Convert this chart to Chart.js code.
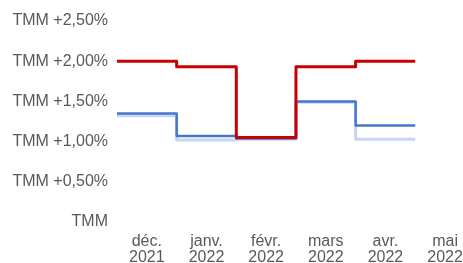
<!DOCTYPE html>
<html>
<head>
<meta charset="utf-8">
<script src="https://cdn.jsdelivr.net/npm/chart.js@4"></script>
<style>
  html, body { margin: 0; padding: 0; background: #fff; overflow: hidden; }
  #wrap { width: 463px; height: 263px; }
</style>
</head>
<body>
<div id="wrap"><canvas id="chart"></canvas></div>
<script>
// months shown on the x axis (two lines each)
const months = [['déc.', '2021'], ['janv.', '2022'], ['févr.', '2022'], ['mars', '2022'], ['avr.', '2022'], ['mai', '2022']];
const yTickLabels = ['TMM', 'TMM +0,50%', 'TMM +1,00%', 'TMM +1,50%', 'TMM +2,00%', 'TMM +2,50%'];

// values in % above TMM, one per month (déc. -> avr.)
const redVals = [2.00, 1.93, 1.05, 1.93, 2.00];
const blueVals = [1.35, 1.07, 1.04, 1.50, 1.20];
const lightVals = [1.32, 1.02, 1.03, 1.49, 1.03];

// each month is a flat step centred on its tick
function steps(vals) {
  const pts = vals.map((v, i) => ({ x: i - 0.5, y: v }));
  pts.push({ x: vals.length - 0.5, y: vals[vals.length - 1] });
  return pts;
}

const grey = '#595959';

new Chart(document.getElementById('chart'), {
  type: 'line',
  data: {
    datasets: [
      { data: steps(redVals), borderColor: '#c80000', borderWidth: 3, stepped: true, pointRadius: 0, borderJoinStyle: 'round', order: 1 },
      { data: steps(blueVals), borderColor: '#4677cc', borderWidth: 2.5, stepped: true, pointRadius: 0, borderJoinStyle: 'round', order: 2 },
      { data: steps(lightVals), borderColor: '#c6d6f2', borderWidth: 3, stepped: true, pointRadius: 0, borderJoinStyle: 'round', order: 3 }
    ]
  },
  options: {
    responsive: true,
    maintainAspectRatio: false,
    animation: false,
    layout: { padding: { top: 21, left: 0, right: 0, bottom: 0 } },
    plugins: { legend: { display: false }, tooltip: { enabled: false } },
    scales: {
      x: {
        type: 'linear',
        min: -0.5,
        max: 5.3,
        grid: { display: false, drawTicks: false },
        border: { display: false },
        afterBuildTicks: (scale) => { scale.ticks = months.map((m, i) => ({ value: i })); },
        afterFit: (scale) => { scale.height = 41; scale.paddingLeft = 0; scale.paddingRight = 0; },
        ticks: {
          padding: 12,
          color: grey,
          font: { family: 'Liberation Sans, Arial, sans-serif', size: 16, lineHeight: 1.0 },
          maxRotation: 0,
          autoSkip: false,
          callback: (v) => months[v]
        }
      },
      y: {
        min: 0,
        max: 2.5,
        grid: { display: false, drawTicks: false },
        border: { display: false },
        afterFit: (scale) => { scale.width = 117; scale.paddingTop = 0; scale.paddingBottom = 0; },
        ticks: {
          stepSize: 0.5,
          padding: 9,
          color: grey,
          font: { family: 'Liberation Sans, Arial, sans-serif', size: 16 },
          callback: (v) => yTickLabels[Math.round(v / 0.5)]
        }
      }
    }
  }
});
</script>
</body>
</html>
